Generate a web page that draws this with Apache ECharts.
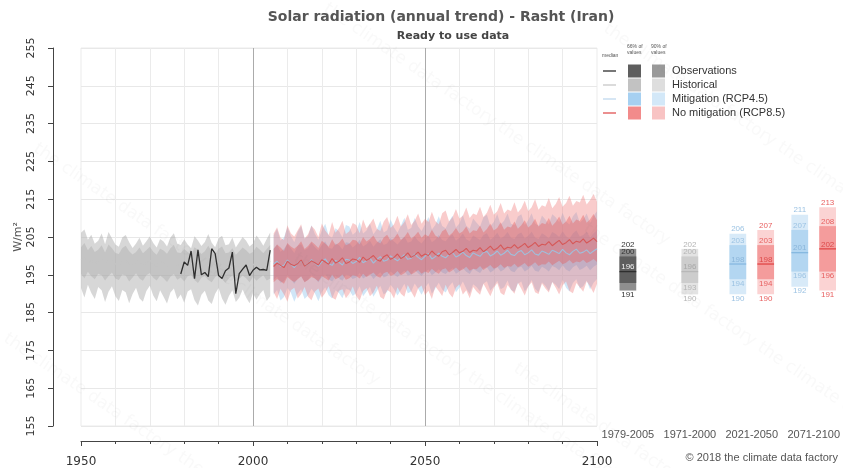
<!DOCTYPE html>
<html>
<head>
<meta charset="utf-8">
<script src="https://cdn.jsdelivr.net/npm/echarts@6/dist/echarts.min.js"></script>
<style>
  html, body { margin: 0; padding: 0; background: #ffffff; }
  #chart { width: 843px; height: 468px; }
</style>
</head>
<body>
<div id="chart"></div>
<script>
// ---- Annual series -------------------------------------------------------
const histFirstYear = 1950;   // historical model runs 1950-2005
const obsFirstYear = 1979;    // observations 1979-2005
const projFirstYear = 2006;   // scenario runs 2006-2100

// Historical ensemble (W/m2)
const histP5 = [
  191.5, 189.0, 192.4, 190.2, 188.6, 191.8, 190.9, 187.8, 190.5, 192.0,
  189.3, 188.1, 191.0, 190.4, 187.5, 189.9, 191.6, 188.8, 187.9, 190.7,
  192.1, 189.5, 188.0, 190.9, 189.2, 187.4, 190.3, 191.4, 188.5, 189.8,
  187.6, 190.6, 191.2, 188.3, 186.9, 189.7, 190.8, 188.2, 187.3, 190.0,
  191.5, 188.7, 187.1, 189.4, 190.9, 187.8, 188.9, 191.1, 189.0, 187.5,
  190.2, 188.4, 189.9, 191.0, 188.1, 189.3
];
const histP17 = [
  195.2, 194.1, 195.8, 194.6, 193.8, 195.3, 194.9, 193.5, 194.7, 195.6,
  194.0, 193.6, 195.1, 194.8, 193.2, 194.3, 195.4, 194.0, 193.4, 194.9,
  195.5, 194.2, 193.5, 194.8, 194.1, 193.1, 194.5, 195.2, 193.7, 194.3,
  193.2, 194.6, 195.0, 193.6, 192.8, 194.2, 194.7, 193.6, 193.0, 194.4,
  195.1, 193.8, 192.9, 194.0, 194.9, 193.3, 193.9, 194.8, 194.1, 193.0,
  194.5, 193.4, 194.2, 194.9, 193.5, 194.0
];
const histMedian = [
  199.0, 199.4, 198.1, 198.9, 197.8, 198.5, 199.2, 197.6, 199.1, 198.6,
  197.9, 197.5, 198.7, 198.9, 197.6, 197.8, 198.4, 198.6, 197.3, 198.2,
  198.9, 197.8, 197.2, 198.5, 198.0, 197.4, 198.3, 199.0, 197.5, 197.7,
  197.9, 198.1, 197.0, 198.6, 198.0, 197.1, 197.8, 198.7, 197.6, 197.2,
  198.3, 198.5, 197.1, 197.4, 198.4, 196.9, 197.6, 198.3, 197.9, 197.0,
  197.6, 198.4, 197.8, 197.2, 197.9, 198.6
];
const histP83 = [
  202.3, 203.4, 201.5, 202.6, 201.0, 201.6, 202.8, 200.9, 203.0, 202.0,
  200.8, 200.5, 202.1, 202.7, 201.2, 200.4, 201.0, 202.2, 200.7, 201.5,
  202.4, 201.1, 200.3, 201.9, 201.4, 200.6, 202.0, 202.9, 200.9, 200.8,
  201.8, 201.0, 200.2, 202.3, 201.6, 200.5, 201.2, 202.7, 201.1, 200.4,
  201.9, 202.5, 200.7, 200.9, 202.0, 200.3, 201.2, 202.2, 201.5, 200.6,
  201.0, 202.4, 201.6, 200.7, 201.8, 202.9
];
const histP95 = [
  206.1, 207.0, 204.3, 205.6, 203.2, 204.0, 205.9, 203.1, 206.3, 204.7,
  203.0, 202.4, 204.9, 205.5, 203.6, 202.1, 203.3, 204.8, 202.7, 203.9,
  205.1, 203.4, 202.2, 204.5, 203.8, 202.5, 204.9, 206.0, 203.2, 202.9,
  204.4, 203.0, 202.0, 205.2, 204.1, 202.6, 203.7, 205.8, 203.5, 202.3,
  204.6, 205.3, 202.8, 203.1, 204.9, 202.2, 203.6, 205.0, 204.0, 202.5,
  203.3, 205.4, 204.2, 202.7, 204.5, 206.2
];

// Observations (W/m2)
const obsValues = [
  195.2, 198.4, 197.5, 201.3, 194.0, 201.6, 195.0, 195.6, 194.5, 201.9,
  200.6, 194.8, 194.0, 196.1, 196.8, 201.0, 190.0, 195.3, 196.5, 197.6,
  194.8, 196.2, 197.0, 196.3, 196.4, 196.2, 201.5
];

// Mitigation scenario RCP4.5 (W/m2)
const rcp45P5 = [
  189.8, 191.0, 188.2, 189.1, 191.5, 190.3, 187.9, 190.0, 191.2, 188.6,
  189.5, 191.3, 190.1, 188.0, 190.4, 191.7, 189.6, 188.7, 190.9, 190.2,
  188.8, 191.4, 191.0, 189.4, 190.2, 192.0, 189.3, 190.6, 191.8, 189.2,
  190.7, 192.1, 189.8, 190.5, 192.4, 191.2, 189.5, 191.0, 192.6, 190.1,
  190.6, 192.7, 191.3, 189.7, 191.5, 192.8, 190.0, 191.4, 192.9, 191.1,
  190.3, 192.0, 193.0, 190.4, 191.6, 193.2, 191.3, 189.9, 192.5, 191.8,
  190.6, 192.7, 193.3, 190.8, 191.9, 193.4, 191.2, 191.7, 193.5, 191.0,
  190.5, 192.6, 193.2, 190.6, 191.9, 193.6, 191.3, 190.4, 193.0, 192.1,
  190.7, 193.1, 192.4, 191.2, 193.7, 191.6, 190.6, 192.8, 193.8, 191.4,
  192.0, 193.5, 191.1, 192.9, 193.9
];
const rcp45P17 = [
  193.6, 194.5, 192.9, 193.3, 194.8, 193.9, 192.6, 194.0, 194.6, 193.1,
  193.7, 194.9, 194.0, 193.0, 194.3, 195.1, 193.8, 193.2, 194.7, 194.1,
  193.4, 195.0, 194.8, 193.9, 194.3, 195.5, 194.0, 194.6, 195.3, 193.9,
  194.8, 195.7, 194.3, 194.7, 195.9, 195.1, 194.4, 195.3, 196.1, 194.8,
  195.1, 196.3, 195.4, 194.7, 195.7, 196.4, 194.9, 195.6, 196.5, 195.6,
  195.2, 196.1, 196.7, 195.3, 195.9, 196.8, 195.8, 195.2, 196.6, 196.0,
  195.5, 196.7, 197.0, 195.6, 196.2, 197.1, 195.9, 196.4, 197.3, 196.0,
  195.7, 196.8, 197.2, 195.9, 196.5, 197.4, 196.1, 195.8, 197.1, 196.6,
  195.9, 197.3, 196.9, 196.2, 197.5, 196.4, 195.9, 197.0, 197.6, 196.3,
  196.7, 197.4, 196.2, 197.1, 197.7
];
const rcp45Median = [
  197.9, 198.6, 197.2, 197.5, 198.9, 197.8, 196.9, 198.2, 198.7, 197.4,
  197.8, 199.0, 198.1, 197.3, 198.4, 199.2, 197.9, 197.5, 198.8, 198.3,
  197.6, 199.1, 198.9, 198.0, 198.5, 199.6, 198.2, 198.7, 199.4, 198.1,
  199.0, 199.8, 198.6, 198.9, 200.0, 199.3, 198.7, 199.5, 200.3, 199.1,
  199.4, 200.5, 199.6, 199.0, 199.9, 200.6, 199.2, 199.8, 200.7, 199.9,
  199.5, 200.4, 200.9, 199.7, 200.2, 201.0, 200.1, 199.6, 200.8, 200.3,
  199.9, 200.9, 201.2, 200.0, 200.5, 201.3, 200.2, 200.7, 201.5, 200.4,
  200.1, 201.0, 201.4, 200.3, 200.8, 201.6, 200.5, 200.2, 201.3, 200.9,
  200.4, 201.5, 201.1, 200.6, 201.7, 200.8, 200.3, 201.2, 201.8, 200.7,
  201.0, 201.6, 200.6, 201.3, 201.9
];
const rcp45P83 = [
  201.9, 203.0, 201.1, 201.8, 203.2, 202.0, 200.8, 202.7, 203.1, 201.5,
  202.1, 203.5, 202.3, 201.4, 202.9, 203.8, 202.1, 201.9, 203.3, 202.8,
  201.7, 203.6, 203.4, 202.2, 203.0, 204.3, 202.5, 203.1, 204.0, 202.4,
  203.5, 204.4, 202.9, 203.3, 204.7, 203.8, 203.0, 204.1, 205.1, 203.5,
  203.8, 205.2, 204.0, 203.3, 204.5, 205.4, 203.6, 204.3, 205.5, 204.2,
  203.9, 205.0, 205.7, 204.0, 204.8, 205.9, 204.4, 203.9, 205.4, 204.8,
  204.2, 205.5, 206.0, 204.3, 205.0, 206.1, 204.6, 205.2, 206.3, 204.8,
  204.5, 205.7, 206.2, 204.6, 205.3, 206.4, 204.9, 204.5, 206.0, 205.4,
  204.7, 206.3, 205.8, 205.0, 206.5, 205.2, 204.6, 205.9, 206.7, 205.1,
  205.5, 206.4, 204.9, 206.0, 206.8
];
const rcp45P95 = [
  205.4, 207.2, 204.1, 204.9, 207.6, 205.3, 203.6, 206.4, 207.9, 204.6,
  205.2, 208.1, 205.8, 204.3, 206.7, 208.5, 205.4, 204.8, 207.3, 206.5,
  204.9, 208.2, 207.8, 205.6, 206.4, 209.0, 205.9, 206.7, 208.6, 205.7,
  207.0, 209.3, 206.2, 206.8, 209.6, 207.5, 206.1, 208.0, 210.1, 206.9,
  207.4, 210.0, 207.8, 206.6, 208.4, 210.3, 207.0, 208.2, 210.5, 207.9,
  207.3, 209.1, 210.6, 207.5, 208.6, 210.8, 208.0, 207.2, 209.9, 208.8,
  207.8, 210.2, 210.9, 207.9, 209.0, 211.1, 208.3, 209.3, 211.2, 208.5,
  208.1, 210.4, 211.0, 208.2, 209.4, 211.3, 208.6, 208.0, 210.7, 209.6,
  208.4, 211.0, 210.2, 208.9, 211.4, 209.1, 208.3, 210.5, 211.6, 208.8,
  209.7, 211.2, 208.7, 210.6, 211.8
];

// No mitigation scenario RCP8.5 (W/m2)
const rcp85P5 = [
  190.4, 188.6, 191.3, 189.8, 187.9, 190.9, 191.6, 188.7, 189.9, 191.8,
  189.2, 188.3, 190.6, 191.4, 188.9, 190.2, 192.0, 189.0, 188.4, 190.8,
  191.2, 188.8, 190.0, 191.9, 189.4, 188.2, 190.7, 191.5, 189.3, 190.3,
  192.1, 189.1, 188.5, 191.0, 190.4, 188.7, 191.7, 190.0, 189.2, 192.3,
  190.5, 188.9, 191.4, 192.2, 189.6, 190.8, 188.6, 191.9, 190.7, 189.4,
  192.4, 190.1, 189.0, 191.6, 192.5, 189.8, 190.9, 188.8, 191.8, 190.6,
  189.7, 192.6, 191.0, 189.3, 191.5, 192.8, 190.2, 189.6, 192.3, 191.1,
  190.0, 192.9, 191.3, 189.5, 191.9, 193.0, 190.4, 189.9, 192.7, 191.4,
  190.3, 193.1, 191.6, 189.8, 192.2, 193.2, 190.7, 190.1, 192.8, 191.7,
  190.5, 193.3, 191.9, 190.2, 192.6
];
const rcp85P17 = [
  193.0, 193.9, 193.3, 192.6, 194.4, 193.6, 193.1, 193.8, 194.6, 193.0,
  193.6, 194.4, 194.0, 193.3, 194.7, 194.1, 193.5, 195.0, 193.8, 194.3,
  195.1, 193.7, 194.1, 194.9, 194.7, 194.0, 195.3, 194.4, 195.0, 195.6,
  194.6, 194.2, 195.4, 195.8, 194.7, 195.1, 196.0, 194.9, 195.4, 196.2,
  195.1, 195.6, 196.3, 195.3, 195.9, 195.5, 196.6, 195.8, 195.3, 196.4,
  196.7, 195.6, 196.2, 196.9, 196.0, 196.4, 197.1, 196.1, 196.6, 196.5,
  197.3, 196.3, 196.9, 197.6, 196.6, 197.0, 197.8, 196.8, 197.3, 197.1,
  197.9, 197.0, 197.5, 198.1, 197.1, 197.6, 198.3, 197.3, 197.8, 197.7,
  198.5, 197.5, 198.1, 198.7, 197.8, 198.2, 198.9, 198.0, 198.5, 198.3,
  199.0, 198.1, 198.6, 199.2, 198.4
];
const rcp85Median = [
  197.2, 198.1, 197.5, 196.9, 198.6, 197.8, 197.4, 198.0, 198.9, 197.3,
  197.9, 198.7, 198.2, 197.6, 199.0, 198.4, 197.8, 199.3, 198.1, 198.6,
  199.5, 198.0, 198.4, 199.2, 199.0, 198.3, 199.7, 198.8, 199.4, 200.1,
  199.0, 198.6, 199.8, 200.3, 199.1, 199.6, 200.5, 199.3, 199.9, 200.8,
  199.6, 200.2, 201.0, 199.9, 200.5, 200.1, 201.3, 200.4, 199.9, 201.1,
  201.5, 200.3, 200.9, 201.7, 200.8, 201.2, 202.0, 200.9, 201.5, 201.3,
  202.2, 201.1, 201.8, 202.6, 201.5, 202.0, 202.9, 201.7, 202.3, 202.1,
  203.0, 202.0, 202.6, 203.3, 202.2, 202.8, 203.6, 202.5, 203.1, 202.9,
  203.8, 202.7, 203.4, 204.1, 203.0, 203.5, 204.3, 203.2, 203.9, 203.6,
  204.5, 203.4, 204.0, 204.7, 203.8
];
const rcp85P83 = [
  201.8, 203.0, 202.2, 201.3, 203.4, 202.5, 201.9, 202.7, 203.9, 201.8,
  202.6, 203.8, 203.0, 202.1, 204.0, 203.3, 202.4, 204.4, 202.9, 203.5,
  204.6, 202.8, 203.2, 204.3, 204.1, 203.0, 205.0, 203.8, 204.5, 205.4,
  203.9, 203.3, 204.9, 205.6, 204.0, 204.7, 205.9, 204.2, 205.0, 206.3,
  204.6, 205.3, 206.4, 204.8, 205.7, 205.1, 206.9, 205.4, 204.8, 206.5,
  207.1, 205.3, 206.1, 207.4, 205.9, 206.5, 207.8, 205.9, 206.8, 206.6,
  208.0, 206.2, 207.1, 208.5, 206.7, 207.4, 208.9, 206.9, 207.8, 207.5,
  209.1, 207.2, 208.1, 209.4, 207.5, 208.3, 209.8, 207.8, 208.7, 208.4,
  210.0, 208.0, 209.0, 210.4, 208.3, 209.1, 210.6, 208.6, 209.6, 209.2,
  210.9, 208.8, 209.7, 211.1, 209.4
];
const rcp85P95 = [
  205.9, 207.6, 204.8, 204.2, 208.1, 206.0, 205.1, 206.8, 208.4, 204.6,
  205.7, 208.0, 206.9, 205.0, 208.6, 206.7, 205.5, 209.0, 206.1, 207.4,
  209.3, 205.8, 206.5, 208.7, 208.2, 206.0, 209.6, 207.3, 208.5, 209.9,
  207.2, 206.6, 209.1, 210.3, 207.4, 208.4, 210.6, 207.8, 209.0, 211.0,
  208.2, 209.3, 211.2, 208.5, 209.8, 209.0, 211.7, 209.2, 208.4, 211.3,
  212.0, 209.1, 210.2, 212.4, 209.9, 210.6, 212.8, 210.0, 211.2, 210.8,
  213.0, 210.3, 211.4, 213.5, 210.9, 211.8, 214.0, 211.2, 212.3, 211.9,
  214.2, 211.5, 212.6, 214.6, 211.9, 212.9, 215.0, 212.2, 213.4, 213.0,
  215.3, 212.6, 213.7, 215.6, 213.0, 214.0, 215.9, 213.3, 214.5, 214.1,
  216.2, 213.6, 214.8, 216.4, 214.3
];

// ---- Period summaries: [p5, p17, median, p83, p95] -----------------------
const periodLabels = ['1979-2005', '1971-2000', '2021-2050', '2071-2100'];
const summaryObs = [191, 193, 196, 200, 202];          // 1979-2005
const summaryHist = [190, 193, 196, 200, 202];         // 1971-2000
const summaryRcp45Near = [190, 194, 198, 203, 206];    // 2021-2050
const summaryRcp85Near = [190, 194, 198, 203, 207];    // 2021-2050
const summaryRcp45Far = [192, 196, 201, 207, 211];     // 2071-2100
const summaryRcp85Far = [191, 196, 202, 208, 213];     // 2071-2100

// Y axis ticks
const yMin = 155, yMax = 255, yStep = 10;

// ---- Helpers ---------------------------------------------------------------
function yearsFrom(first, n) {
  const out = [];
  for (let i = 0; i < n; i++) out.push(first + i);
  return out;
}
function pairs(first, values) {
  return values.map((v, i) => [first + i, v]);
}

// Filled envelope between two percentile curves, drawn as one polygon
function bandSeries(first, lower, upper, fill, z) {
  const rows = yearsFrom(first, lower.length).map((yr, i) => [yr, lower[i], upper[i]]);
  return {
    type: 'custom',
    xAxisIndex: 0, yAxisIndex: 0,
    z: z, silent: true,
    data: rows,
    encode: { x: 0, y: [1, 2] },
    renderItem: function (params, api) {
      if (params.dataIndex !== 0) return null;
      const pts = [];
      for (let i = 0; i < rows.length; i++) pts.push(api.coord([rows[i][0], rows[i][2]]));
      for (let i = rows.length - 1; i >= 0; i--) pts.push(api.coord([rows[i][0], rows[i][1]]));
      return { type: 'polygon', shape: { points: pts }, style: { fill: fill } };
    }
  };
}

function lineSeries(first, values, color, width, z) {
  return {
    type: 'line', xAxisIndex: 0, yAxisIndex: 0, z: z, silent: true,
    data: pairs(first, values), showSymbol: false, symbol: 'none',
    lineStyle: { color: color, width: width }
  };
}

// Period summary box: light 90% range, darker 66% range, median bar, value labels
function summarySeries(items, pal, hideIdx) {
  return {
    type: 'custom', xAxisIndex: 1, yAxisIndex: 1, silent: true, z: 5,
    data: items.map(it => [it.pos].concat(it.stats)),
    encode: { x: 0, y: [1, 5] },
    renderItem: function (params, api) {
      const x = api.value(0);
      const v = [1, 2, 3, 4, 5].map(i => api.value(i));
      const w = api.size([0.27, 0])[0];
      const cx = api.coord([x, v[2]])[0];
      const py = v.map(val => api.coord([x, val])[1]);
      const kids = [
        { type: 'rect', shape: { x: cx - w / 2, y: py[4], width: w, height: py[0] - py[4] }, style: { fill: pal.outer } },
        { type: 'rect', shape: { x: cx - w / 2, y: py[3], width: w, height: py[1] - py[3] }, style: { fill: pal.inner } },
        { type: 'line', shape: { x1: cx - w / 2, y1: py[2], x2: cx + w / 2, y2: py[2] }, style: { stroke: pal.median, lineWidth: 1.3 } }
      ];
      for (let k = 0; k < 5; k++) {
        if (hideIdx && hideIdx.indexOf(k) >= 0) continue;
        const above = k >= 2;
        kids.push({
          type: 'text',
          style: {
            text: String(v[k]),
            x: cx, y: above ? py[k] - 0.5 : py[k] + 0.5,
            align: 'center', verticalAlign: above ? 'bottom' : 'top',
            fill: k === 2 ? pal.medText : pal.text,
            font: '8px "Liberation Sans", Arial, sans-serif'
          }
        });
      }
      return { type: 'group', children: kids };
    }
  };
}

// ---- Colours -------------------------------------------------------------
const palObs = { outer: '#8f8f8f', inner: '#5e5e5e', median: '#2e2e2e', text: '#333333', medText: '#f2f2f2' };
const palHist = { outer: '#e3e3e3', inner: '#cdcdcd', median: '#b8b8b8', text: '#b5b5b5', medText: '#a8a8a8' };
const pal45 = { outer: '#d8eaf8', inner: '#b3d6f1', median: '#86b9e0', text: '#9cc3e3', medText: '#8bb6da' };
const pal85 = { outer: '#fbd3d3', inner: '#f49c9c', median: '#e04848', text: '#e86060', medText: '#dd4a4a' };

// ---- Legend and decorative text (graphic layer) ----------------------------
const legendRows = [
  { name: 'Observations', line: '#4a4a4a', c66: '#5e5e5e', c90: '#999999' },
  { name: 'Historical', line: '#cfcfcf', c66: '#c2c2c2', c90: '#dedede' },
  { name: 'Mitigation (RCP4.5)', line: '#c9def0', c66: '#a6d0f1', c90: '#d3e8f8' },
  { name: 'No mitigation (RCP8.5)', line: '#e46a6a', c66: '#f28b8b', c90: '#f8c3c3' }
];
const graphics = [];
const tinyFont = '5px "Liberation Sans", Arial, sans-serif';
graphics.push({ type: 'text', left: 602, top: 53, style: { text: 'median', font: tinyFont, fill: '#555' } });
graphics.push({ type: 'text', left: 627, top: 44, style: { text: '66% of\nvalues', font: tinyFont, fill: '#555', lineHeight: 6 } });
graphics.push({ type: 'text', left: 651, top: 44, style: { text: '90% of\nvalues', font: tinyFont, fill: '#555', lineHeight: 6 } });
legendRows.forEach((r, i) => {
  const cy = 71 + i * 14;
  graphics.push({ type: 'line', shape: { x1: 603, y1: cy, x2: 616, y2: cy }, style: { stroke: r.line, lineWidth: 1.5 } });
  graphics.push({ type: 'rect', shape: { x: 628, y: cy - 6.5, width: 13, height: 13 }, style: { fill: r.c66 } });
  graphics.push({ type: 'rect', shape: { x: 652, y: cy - 6.5, width: 13, height: 13 }, style: { fill: r.c90 } });
  graphics.push({ type: 'text', x: 672, y: cy, style: { text: r.name, font: '11px "Liberation Sans", Arial, sans-serif', fill: '#333', verticalAlign: 'middle' } });
});
graphics.push({ type: 'text', x: 838, y: 458, style: { text: '\u00a9 2018 the climate data factory', font: '11px "Liberation Sans", Arial, sans-serif', fill: '#555', align: 'right', verticalAlign: 'middle' } });

// faint diagonal brand text across the canvas
const wmSpots = [[330, 0], [610, 20], [40, 140], [300, 250], [590, 220], [10, 330], [520, 360]];
wmSpots.forEach(p => {
  graphics.push({
    type: 'text', x: p[0], y: p[1], rotation: -0.6, z: 100, silent: true,
    style: { text: 'the climate data factory the climate data factory', font: '17px "DejaVu Sans", sans-serif', fill: 'rgba(120,120,120,0.045)' }
  });
});

// ---- Chart -------------------------------------------------------------------
const chart = echarts.init(document.getElementById('chart'), null, { renderer: 'canvas' });
const axisGrey = '#444444';

chart.setOption({
  backgroundColor: '#ffffff',
  animation: false,
  title: [
    { text: 'Solar radiation (annual trend) - Rasht (Iran)', left: 436, top: 5, textAlign: 'center',
      textStyle: { fontFamily: 'DejaVu Sans', fontWeight: 'bold', fontSize: 14, color: '#555555' } },
    { text: 'Ready to use data', left: 448, top: 26, textAlign: 'center',
      textStyle: { fontFamily: 'DejaVu Sans', fontWeight: 'bold', fontSize: 11, color: '#444444' } }
  ],
  grid: [
    { left: 81, right: 246, top: 48, bottom: 41, show: true, borderColor: '#ebebeb', borderWidth: 1 },
    { left: 600, right: 0, top: 48, bottom: 41 }
  ],
  xAxis: [
    {
      type: 'value', gridIndex: 0, min: 1950, max: 2100, interval: 50, offset: 15,
      axisLine: { show: true, lineStyle: { color: axisGrey, width: 1 } },
      axisTick: { show: true, length: 5, lineStyle: { color: axisGrey } },
      minorTick: { show: true, splitNumber: 5, length: 3, lineStyle: { color: axisGrey } },
      axisLabel: { margin: 15, fontFamily: 'DejaVu Sans', fontSize: 12, color: '#333333', formatter: v => String(v) },
      splitLine: { show: true, showMinLine: false, showMaxLine: false, lineStyle: { color: '#ababab', width: 1 } },
      minorSplitLine: { show: true, lineStyle: { color: '#ebebeb', width: 1 } }
    },
    {
      type: 'value', gridIndex: 1, min: -0.45, max: 3.45,
      axisLine: { show: false }, axisTick: { show: false }, splitLine: { show: false },
      axisLabel: {
        show: true, customValues: [0, 1, 2, 3], margin: 2,
        formatter: v => periodLabels[Math.round(v)],
        fontFamily: 'Liberation Sans', fontSize: 11, color: '#555555'
      }
    }
  ],
  yAxis: [
    {
      type: 'value', gridIndex: 0, min: yMin, max: yMax, interval: yStep, offset: 28,
      name: 'W/m\u00b2', nameLocation: 'middle', nameRotate: 90, nameGap: 29, nameMoveOverlap: false,
      nameTextStyle: { fontFamily: 'DejaVu Sans', fontSize: 11, color: '#555555' },
      axisLine: { show: true, lineStyle: { color: axisGrey, width: 1 } },
      axisTick: { show: true, length: 5, lineStyle: { color: axisGrey } },
      axisLabel: { rotate: 90, margin: 16, fontFamily: 'DejaVu Sans', fontSize: 11, color: '#333333' },
      splitLine: { show: true, lineStyle: { color: '#e8e8e8', width: 1 } }
    },
    { type: 'value', gridIndex: 1, min: yMin, max: yMax, show: false }
  ],
  graphic: graphics,
  series: [
    bandSeries(histFirstYear, histP5, histP95, 'rgba(175,175,175,0.5)', 1),
    bandSeries(histFirstYear, histP17, histP83, 'rgba(165,165,165,0.38)', 1),
    bandSeries(projFirstYear, rcp45P5, rcp45P95, 'rgba(150,200,238,0.45)', 2),
    bandSeries(projFirstYear, rcp45P17, rcp45P83, 'rgba(120,180,230,0.45)', 2),
    bandSeries(projFirstYear, rcp85P5, rcp85P95, 'rgba(240,120,120,0.38)', 3),
    bandSeries(projFirstYear, rcp85P17, rcp85P83, 'rgba(228,95,95,0.42)', 3),
    lineSeries(histFirstYear, histMedian, '#c4c4c4', 1.2, 4),
    lineSeries(obsFirstYear, obsValues, '#2f2f2f', 1.3, 5),
    lineSeries(projFirstYear, rcp45Median, '#9fbfdc', 1.1, 4),
    lineSeries(projFirstYear, rcp85Median, '#d65858', 1.1, 4),
    summarySeries([{ pos: 0, stats: summaryObs }], palObs, [1]),
    summarySeries([{ pos: 1, stats: summaryHist }], palHist, null),
    summarySeries([{ pos: 1.775, stats: summaryRcp45Near }, { pos: 2.775, stats: summaryRcp45Far }], pal45, null),
    summarySeries([{ pos: 2.225, stats: summaryRcp85Near }, { pos: 3.225, stats: summaryRcp85Far }], pal85, null)
  ]
});
</script>
</body>
</html>
